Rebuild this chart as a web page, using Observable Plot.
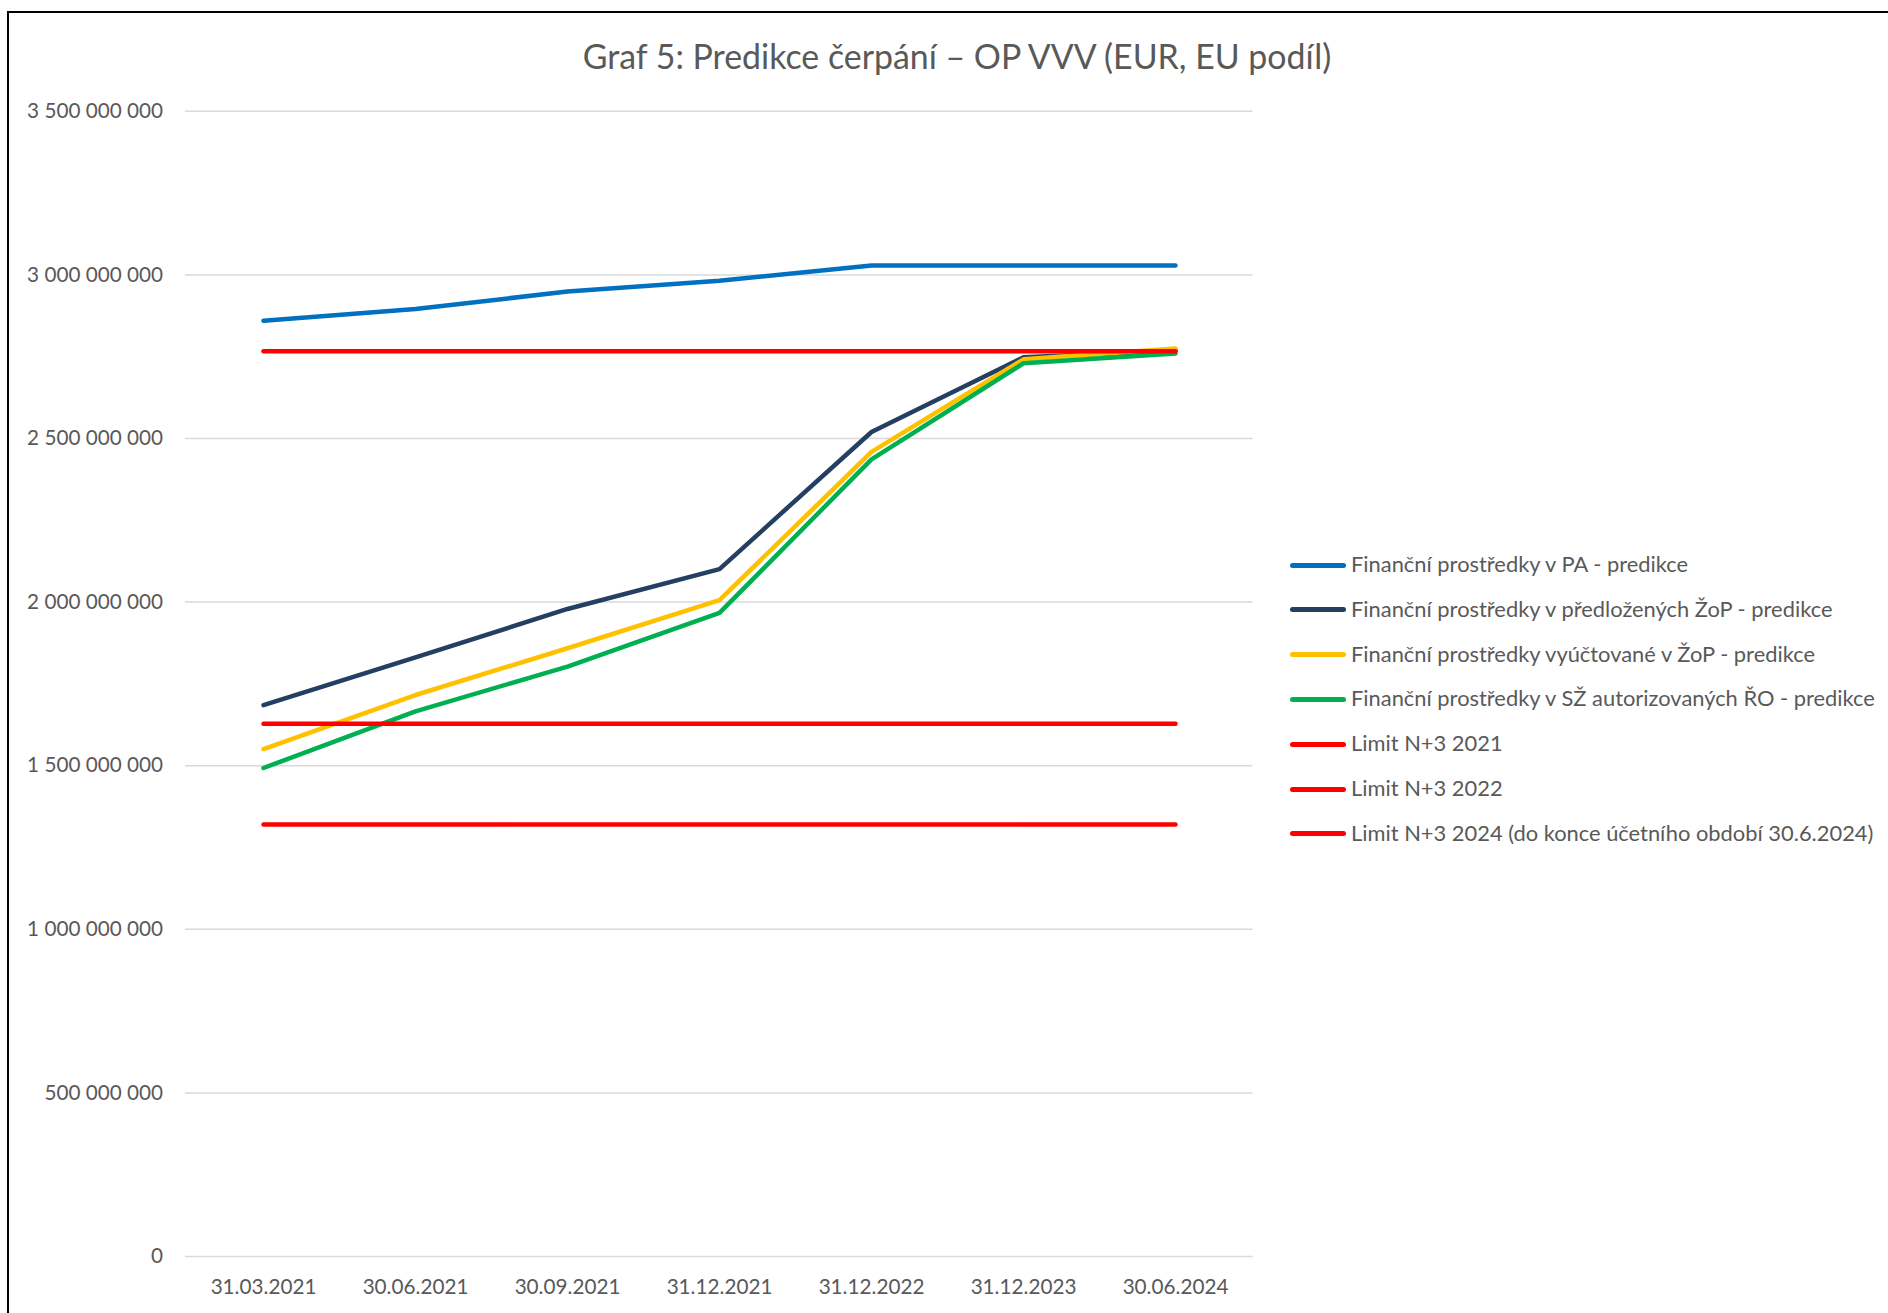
<!DOCTYPE html>
<html>
<head>
<meta charset="utf-8">
<script src="https://cdn.jsdelivr.net/npm/d3@7"></script>
<script src="https://cdn.jsdelivr.net/npm/@observablehq/plot@0.6"></script>
<style>
  html, body { margin: 0; padding: 0; background: #fff; }
  #wrap { position: relative; width: 1888px; height: 1313px; overflow: hidden; font-family: Lato, "Open Sans", sans-serif; color: #595959; }
  #frame { position: absolute; left: 7px; top: 11px; width: 2000px; height: 2000px; border-left: 2px solid #000; border-top: 2px solid #000; pointer-events: none; }
  #title { position: absolute; left: 0; top: 0; width: 1914px; height: 80px; text-align: center; white-space: nowrap; }
  #chart { position: absolute; left: 0; top: 80px; }
  #legend { position: absolute; left: 1290px; top: 0; }
  .item { position: absolute; left: 0; white-space: nowrap; }
  .sw { position: absolute; left: 0; width: 56px; height: 5px; border-radius: 3px; }
  .lt { position: absolute; left: 61px; white-space: nowrap; line-height: 1; }
</style>
</head>
<body>
<div id="wrap">
  <div id="title"></div>
  <div id="chart"></div>
  <div id="legend"></div>
  <div id="frame"></div>
</div>
<script>
// ---- data ----
const titleText = "Graf 5: Predikce čerpání – OP VVV (EUR, EU podíl)";
const dates = ["31.03.2021", "30.06.2021", "30.09.2021", "31.12.2021", "31.12.2022", "31.12.2023", "30.06.2024"];
const seriesNames = [
  "Finanční prostředky v PA - predikce",
  "Finanční prostředky v předložených ŽoP - predikce",
  "Finanční prostředky vyúčtované v ŽoP - predikce",
  "Finanční prostředky v SŽ autorizovaných ŘO - predikce",
  "Limit N+3 2021",
  "Limit N+3 2022",
  "Limit N+3 2024 (do konce účetního období 30.6.2024)"
];
const seriesColors = ["#0070C0", "#253F62", "#FFC000", "#00B050", "#FF0000", "#FF0000", "#FF0000"];
const paPredikce     = [2860000000, 2896000000, 2949000000, 2982000000, 3029000000, 3029000000, 3029000000];
const predlozeneZoP  = [1685000000, 1831000000, 1979000000, 2101000000, 2520000000, 2748000000, 2768000000];
const vyuctovaneZoP  = [1551000000, 1716000000, 1859000000, 2006000000, 2459000000, 2742000000, 2775000000];
const autorizovaneRO = [1493000000, 1666000000, 1803000000, 1967000000, 2436000000, 2730000000, 2760000000];
const limit2021      = [1320000000, 1320000000, 1320000000, 1320000000, 1320000000, 1320000000, 1320000000];
const limit2022      = [1628000000, 1628000000, 1628000000, 1628000000, 1628000000, 1628000000, 1628000000];
const limit2024      = [2767000000, 2767000000, 2767000000, 2767000000, 2767000000, 2767000000, 2767000000];
const yTicks = [0, 500000000, 1000000000, 1500000000, 2000000000, 2500000000, 3000000000, 3500000000];

const seriesValues = [paPredikce, predlozeneZoP, vyuctovaneZoP, autorizovaneRO, limit2021, limit2022, limit2024];
const rows = [];
seriesNames.forEach((name, k) => seriesValues[k].forEach((v, i) => rows.push({date: dates[i], value: v, series: name, order: k})));

// ---- text fitting helper ----
const ctx = document.createElement("canvas").getContext("2d");
function fitSize(text, target, family) {
  ctx.font = `100px ${family}`;
  return 100 * target / ctx.measureText(text).width;
}
const FAM = 'Lato, "Open Sans", sans-serif';

// ---- title ----
const title = document.getElementById("title");
const tSize = fitSize(titleText, 753, FAM);
title.textContent = titleText;
title.style.fontSize = tSize + "px";
title.style.lineHeight = "1";
title.style.paddingTop = (57 - tSize * 0.5) + "px";
title.style.height = "auto";

// ---- chart ----
const fmt = d3.formatLocale({decimal: ",", thousands: " ", grouping: [3], currency: ["", ""]}).format(",d");
const axSize = fitSize("3 500 000 000", 136, FAM);

const chart = Plot.plot({
  width: 1888,
  height: 1233,
  marginLeft: 185,
  marginRight: 1888 - 1252.5,
  marginTop: 30.8,
  marginBottom: 57,
  style: {fontFamily: FAM, fontSize: axSize + "px", color: "#595959", background: "transparent", overflow: "visible"},
  x: {type: "point", domain: dates, padding: 0.5, align: 0.5, label: null},
  y: {domain: [0, 3500000000], label: null},
  color: {domain: seriesNames, range: seriesColors},
  marks: [
    Plot.gridY(yTicks, {stroke: "#d9d9d9", strokeOpacity: 1, strokeWidth: 1.5}),
    Plot.axisY(yTicks, {tickSize: 0, tickPadding: 22.5, tickFormat: fmt, fill: "#595959", fontSize: axSize, label: null}),
    Plot.axisX(dates, {tickSize: 0, tickPadding: 23, fill: "#595959", fontSize: axSize, label: null}),
    Plot.line(rows, {x: "date", y: "value", z: "series", stroke: "series", strokeWidth: 4.5,
      strokeLinecap: "round", strokeLinejoin: "round", sort: {channel: null}})
  ]
});
document.getElementById("chart").appendChild(chart);

// ---- legend ----
const legend = document.getElementById("legend");
const lSize = fitSize(seriesNames[3], 526, FAM);
seriesNames.forEach((name, k) => {
  const cy = 565 + 44.8 * k;
  const item = document.createElement("div");
  item.className = "item";
  item.style.top = cy + "px";
  const sw = document.createElement("div");
  sw.className = "sw";
  sw.style.background = seriesColors[k];
  sw.style.top = "-2.5px";
  const lt = document.createElement("div");
  lt.className = "lt";
  lt.textContent = name;
  lt.style.fontSize = lSize + "px";
  lt.style.top = (-lSize * 0.55) + "px";
  item.appendChild(sw);
  item.appendChild(lt);
  legend.appendChild(item);
});
</script>
</body>
</html>
